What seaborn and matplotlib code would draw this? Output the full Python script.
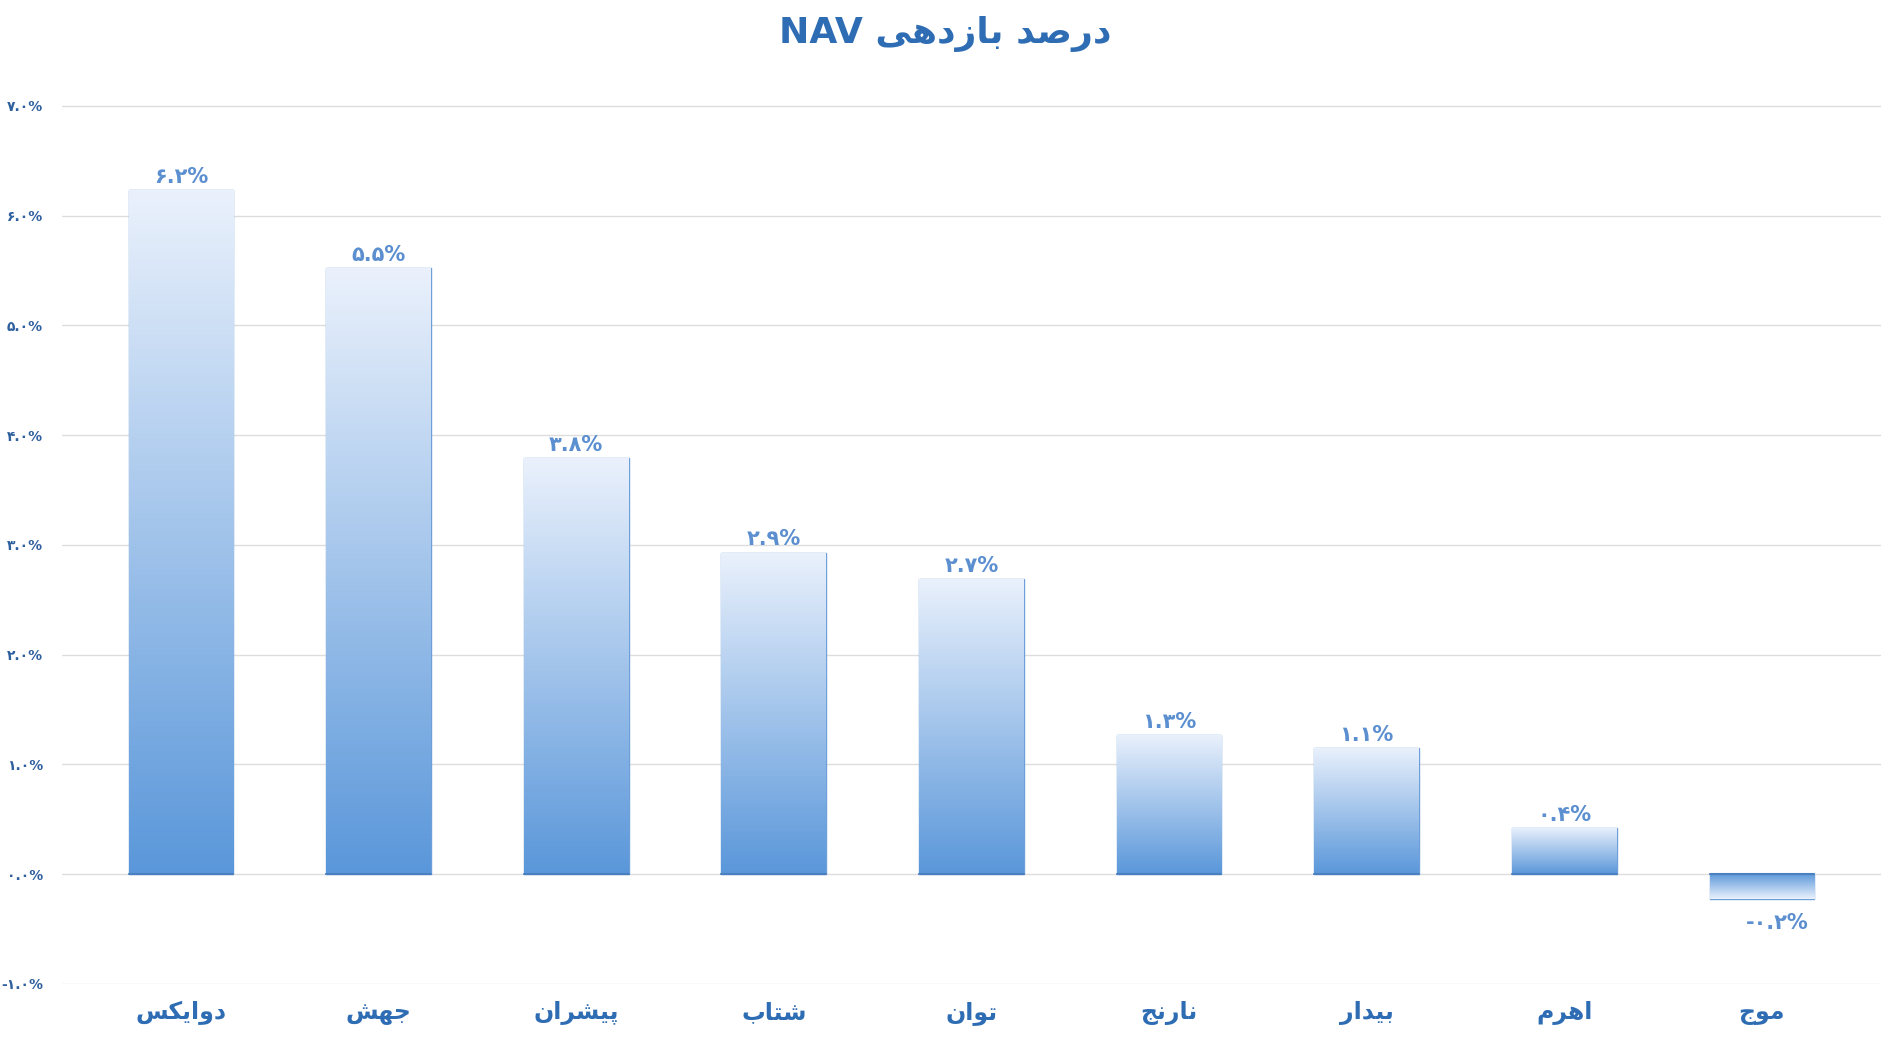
import matplotlib
matplotlib.use("Agg")
import matplotlib.pyplot as plt
import numpy as np
import pandas as pd
import seaborn as sns
from matplotlib.colors import LinearSegmentedColormap

funds = ["دوایکس", "جهش", "پیشران", "شتاب", "توان", "نارنج", "بیدار", "اهرم", "موج"]
returns = [6.23, 5.52, 3.79, 2.93, 2.69, 1.27, 1.15, 0.42, -0.23]
ticks = [-1, 0, 1, 2, 3, 4, 5, 6, 7]
title_fa = "درصد بازدهی"

# presentation forms: isolated, final, initial, medial
FORMS = {
    "ا": (0xFE8D, 0xFE8E), "ب": (0xFE8F, 0xFE90, 0xFE91, 0xFE92),
    "پ": (0xFB56, 0xFB57, 0xFB58, 0xFB59), "ت": (0xFE95, 0xFE96, 0xFE97, 0xFE98),
    "ج": (0xFE9D, 0xFE9E, 0xFE9F, 0xFEA0), "د": (0xFEA9, 0xFEAA),
    "ر": (0xFEAD, 0xFEAE), "ز": (0xFEAF, 0xFEB0),
    "س": (0xFEB1, 0xFEB2, 0xFEB3, 0xFEB4), "ش": (0xFEB5, 0xFEB6, 0xFEB7, 0xFEB8),
    "ص": (0xFEB9, 0xFEBA, 0xFEBB, 0xFEBC), "ک": (0xFB8E, 0xFB8F, 0xFB90, 0xFB91),
    "م": (0xFEE1, 0xFEE2, 0xFEE3, 0xFEE4), "ن": (0xFEE5, 0xFEE6, 0xFEE7, 0xFEE8),
    "ه": (0xFEE9, 0xFEEA, 0xFEEB, 0xFEEC), "و": (0xFEED, 0xFEEE),
    "ی": (0xFBFC, 0xFBFD, 0xFBFE, 0xFBFF),
}


def shape(text):
    out = []
    for i, ch in enumerate(text):
        if ch not in FORMS:
            out.append(ch)
            continue
        f = FORMS[ch]
        prev = text[i - 1] if i > 0 else ""
        nxt = text[i + 1] if i + 1 < len(text) else ""
        jp = prev in FORMS and len(FORMS[prev]) == 4
        jn = nxt in FORMS and len(f) == 4
        if jp and jn:
            c = f[3]
        elif jp:
            c = f[1]
        elif jn:
            c = f[2]
        else:
            c = f[0]
        out.append(chr(c))
    return "".join(out)[::-1]


def fa_digits(s):
    return s.translate(str.maketrans("0123456789", "۰۱۲۳۴۵۶۷۸۹"))


sns.set_theme(style="white")
plt.rcParams["font.family"] = ["DejaVu Sans"]

df = pd.DataFrame({"fund": [shape(f) for f in funds], "ret": returns})
fig, ax = plt.subplots(figsize=(18.9, 10.58), dpi=100)
fig.subplots_adjust(left=0.033, right=0.995, top=0.905, bottom=0.07)
sns.barplot(data=df, x="fund", y="ret", ax=ax, color="#5b9bd5", width=0.53,
            edgecolor="#6f9fd8", linewidth=1, zorder=2)

cmap = LinearSegmentedColormap.from_list("g", ["#5a97da", "#eaf1fc"])
grad = np.linspace(0, 1, 256).reshape(-1, 1)
for p, v in zip(ax.patches, returns):
    x0, w = p.get_x(), p.get_width()
    lo, hi = min(0, v), max(0, v)
    g = grad if v >= 0 else grad[::-1]
    im = ax.imshow(g, extent=[x0, x0 + w, lo, hi], origin="lower", aspect="auto",
                   cmap=cmap, zorder=3)
    im.set_clip_path(p)
    ax.plot([x0, x0 + w], [0, 0], color="#4a7fc0", lw=1.5, zorder=4)
    lbl = fa_digits(f"{v:.1f}").replace("-", "") + "%"
    if v < 0:
        lbl = "-" + lbl
        ax.text(p.get_x() + w * 0.65, v - 0.12, lbl, ha="center", va="top",
                fontsize=15, fontweight="bold", color="#5b8fd0", zorder=5)
    else:
        ax.text(p.get_x() + w * 0.5, v + 0.03, lbl, ha="center", va="bottom",
                fontsize=15, fontweight="bold", color="#5b8fd0", zorder=5)

ax.set_xlim(-0.6, len(funds) - 0.4)
ax.set_ylim(-1, 7.05)
ax.set_yticks(ticks)
ax.set_yticklabels([fa_digits(f"{t:.1f}%") for t in ticks], fontsize=10,
                   fontweight="bold", color="#2e5f9e")
ax.tick_params(axis="x", labelsize=17, colors="#2e6db4", pad=12, length=0)
for t in ax.get_xticklabels():
    t.set_fontweight("bold")
ax.set_xlabel("")
ax.set_ylabel("")
ax.grid(axis="y", color="#dddddd", lw=1, zorder=0)
sns.despine(ax=ax, left=True, bottom=True)
ax.tick_params(axis="y", length=0, pad=14)
fig.suptitle("NAV " + shape(title_fa), fontsize=26, fontweight="bold",
             color="#2e6db4", y=0.985)
fig.savefig("out.png", dpi=100)
